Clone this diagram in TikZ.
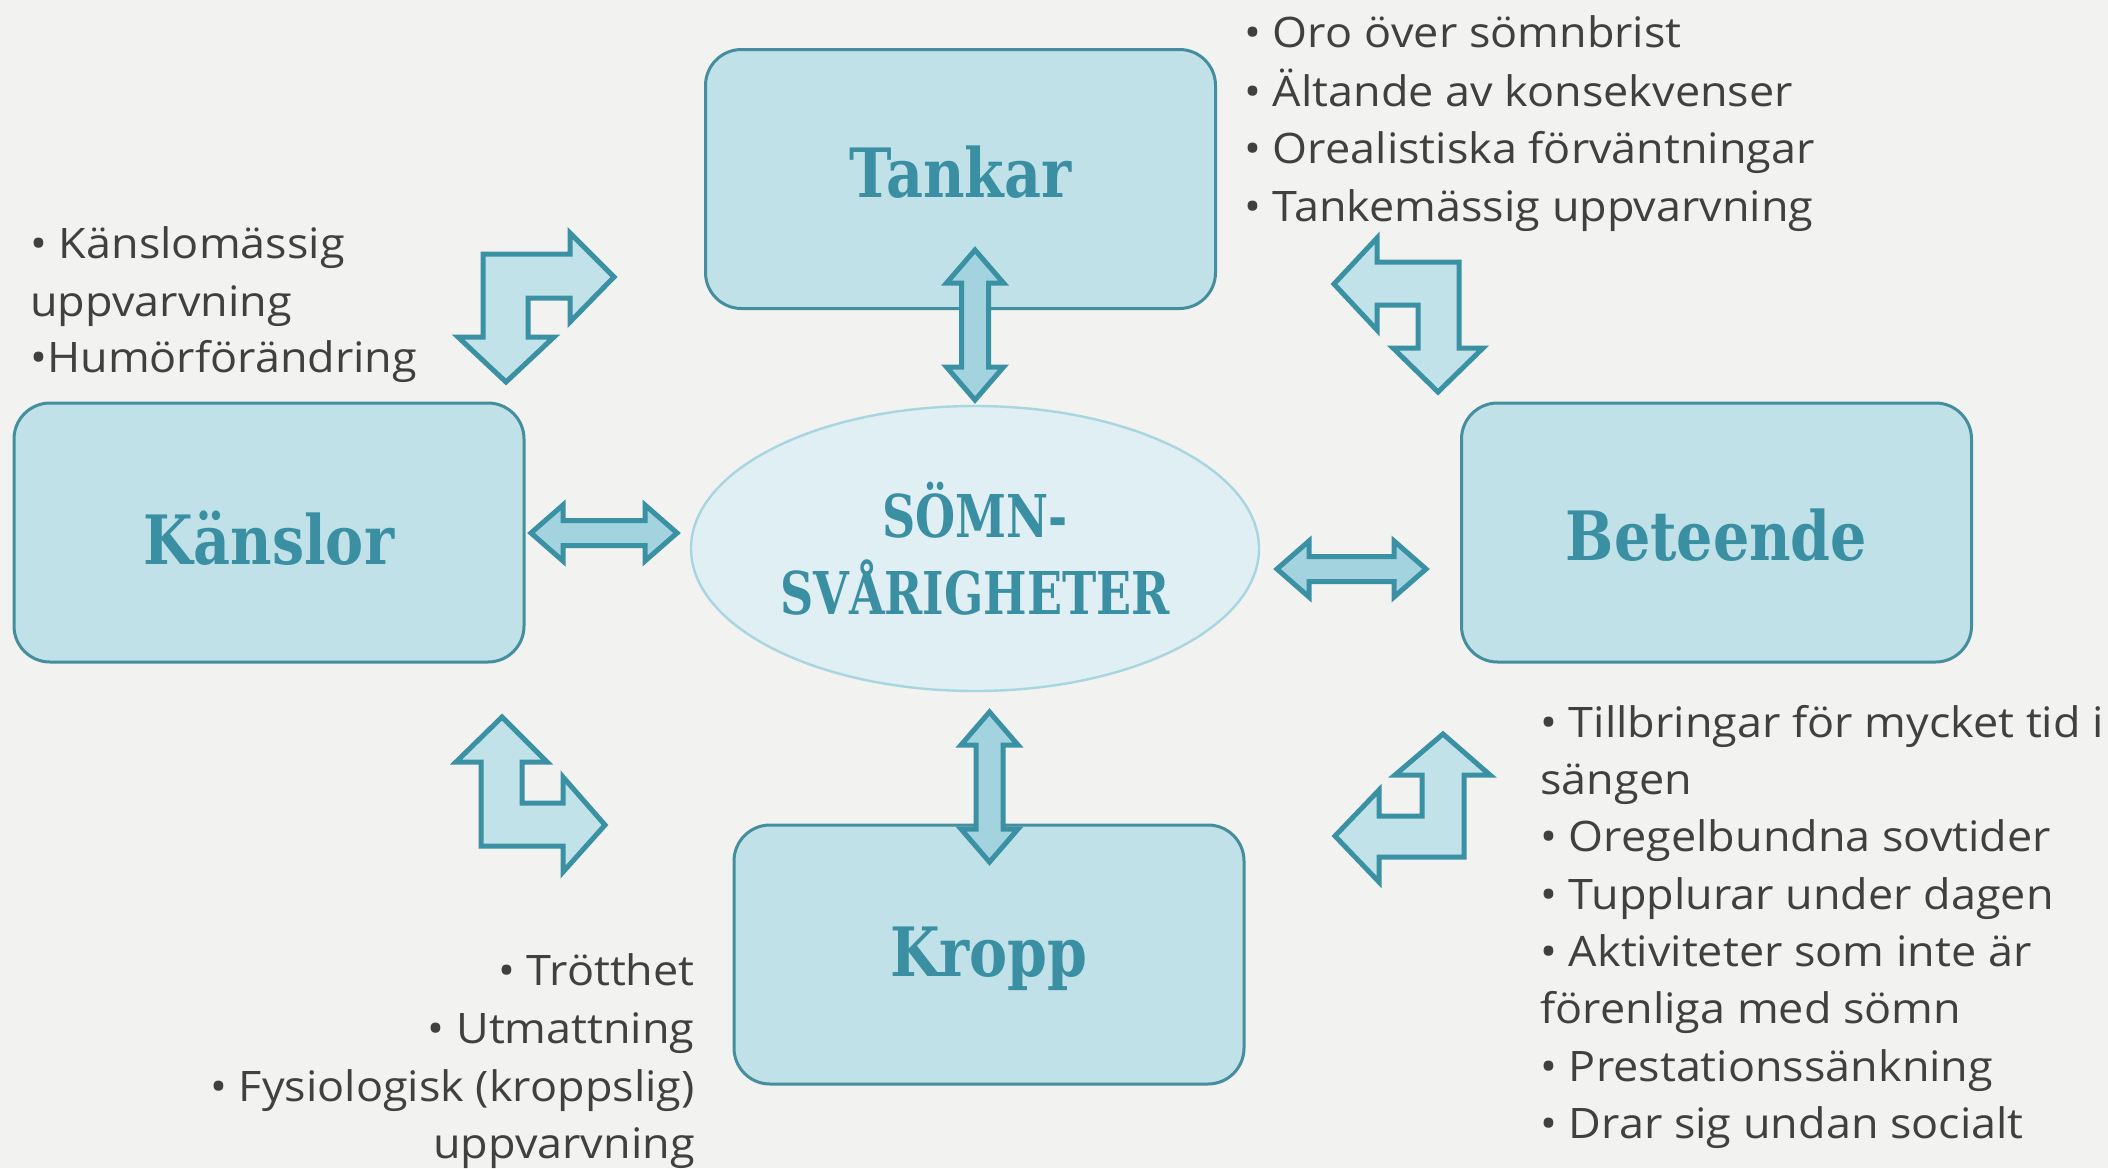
\documentclass[tikz,border=0pt]{standalone}
\usepackage{fontspec}
\setmainfont{Open Sans}[FakeStretch=1.07]
\newfontfamily\titlefont{DejaVu Serif}[FakeStretch=0.84]
\newfontfamily\centerfont{DejaVu Serif}[FakeStretch=0.78]
\definecolor{bgcol}{HTML}{F2F2F0}
\definecolor{boxfill}{HTML}{C0E1E7}
\definecolor{boxdraw}{HTML}{458E9E}
\definecolor{titlecol}{HTML}{3A8FA3}
\definecolor{ellfill}{HTML}{E0EFF4}
\definecolor{elldraw}{HTML}{A7D5E0}
\definecolor{bentfill}{HTML}{C1E2E8}
\definecolor{dblfill}{HTML}{A3D3DE}
\definecolor{arrdraw}{HTML}{3A91A4}
\definecolor{txtcol}{HTML}{404040}
\usetikzlibrary{shapes.geometric}
\tikzset{
  box/.style={draw=boxdraw, line width=1.5pt, fill=boxfill, rounded corners=18pt,
    minimum width=255pt, minimum height=129.5pt, inner sep=0pt, text=titlecol,
    font=\titlefont\bfseries\fontsize{34}{40}\selectfont, text depth=0pt},
  ellnode/.style={ellipse, draw=elldraw, line width=1.2pt, fill=ellfill,
    minimum width=284pt, minimum height=142.5pt, inner sep=0pt, text=titlecol,
    align=center, font=\centerfont\bfseries\fontsize{29.5}{38.5}\selectfont},
  bul/.style={inner sep=0pt, text=txtcol, font=\fontsize{21}{24}\selectfont},
  bentarrow/.style={draw=arrdraw, fill=bentfill, line width=2.5pt, line join=miter},
  dblarrow/.style={draw=arrdraw, fill=dblfill, line width=2.5pt, line join=miter}
}
\begin{document}
\begin{tikzpicture}[x=0.5pt,y=-0.5pt]
\useasboundingbox (0,0) rectangle (2108,1168);
\fill[bgcol] (0,0) rectangle (2108,1168);

% boxes
\node[box, text height=18pt] (tankar) at (960.5,179) {Tankar};
\node[box, text height=31.5pt] (kanslor) at (269,532.5) {Känslor};
\node[box, text height=27.5pt] (beteende) at (1716.5,532.5) {Beteende};
\node[box, text height=21.5pt] (kropp) at (989,954.5) {Kropp};
\node[ellnode] (somn) at (975,548.5) {SÖMN-\\SVÅRIGHETER};

% double arrows
\draw[dblarrow] (975,250) -- (1003.5,283) -- (988.5,283) -- (988.5,367) -- (1003.5,367)
  -- (975,400) -- (946.5,367) -- (961.5,367) -- (961.5,283) -- (946.5,283) -- cycle;
\draw[dblarrow] (989.5,712) -- (1018,745) -- (1003,745) -- (1003,829) -- (1018,829)
  -- (989.5,862) -- (961,829) -- (976,829) -- (976,745) -- (961,745) -- cycle;
\draw[dblarrow] (531,533) -- (563,505) -- (563,520.5) -- (645,520.5) -- (645,505)
  -- (677,533) -- (645,561) -- (645,545.5) -- (563,545.5) -- (563,561) -- cycle;
\draw[dblarrow] (1277,569) -- (1309,541) -- (1309,556.5) -- (1394,556.5) -- (1394,541)
  -- (1426,569) -- (1394,597) -- (1394,581.5) -- (1309,581.5) -- (1309,597) -- cycle;

% bent arrows
\draw[bentarrow] (483,254) -- (570,254) -- (570,233) -- (614,277) -- (570,322) -- (570,298)
  -- (528,298) -- (528,337) -- (554,337) -- (506,382) -- (458,337) -- (483,337) -- cycle;
\draw[bentarrow] (1459,262) -- (1377,262) -- (1377,238) -- (1334,284) -- (1377,330) -- (1377,305)
  -- (1418,305) -- (1418,348) -- (1393,348) -- (1438,392) -- (1483,348) -- (1459,348) -- cycle;
\draw[bentarrow] (481,846) -- (481,762) -- (456,762) -- (502,717) -- (547,762) -- (522,762)
  -- (522,803) -- (563,803) -- (563,777) -- (605,825) -- (563,872) -- (563,846) -- cycle;
\draw[bentarrow] (1464,857) -- (1464,775) -- (1490,775) -- (1443,734) -- (1395,775) -- (1422,775)
  -- (1422,816) -- (1379,816) -- (1379,790) -- (1335,836) -- (1379,882) -- (1379,857) -- cycle;

% text: Tankar
\node[bul, anchor=base west] (t1) at (1244,47) {• Oro över sömnbrist};
\node[bul, anchor=base west] (t2) at (1244,106) {• Ältande av konsekvenser};
\node[bul, anchor=base west] (t3) at (1244,163) {• Orealistiska förväntningar};
\node[bul, anchor=base west] (t4) at (1244,221) {• Tankemässig uppvarvning};
% text: Känslor
\node[bul, anchor=base west] (k1) at (30,258) {• Känslomässig};
\node[bul, anchor=base west] (k2) at (30,316) {uppvarvning};
\node[bul, anchor=base west] (k3) at (30,372) {•Humörförändring};
% text: Kropp
\node[bul, anchor=base east] (b1) at (695,985) {• Trötthet};
\node[bul, anchor=base east] (b2) at (695,1043) {• Utmattning};
\node[bul, anchor=base east] (b3) at (695,1101) {• Fysiologisk (kroppslig)};
\node[bul, anchor=base east] (b4) at (695,1158) {uppvarvning};
% text: Beteende
\node[bul, anchor=base west] (e1) at (1540,737) {• Tillbringar för mycket tid i};
\node[bul, anchor=base west] (e2) at (1540,794) {sängen};
\node[bul, anchor=base west] (e3) at (1540,851) {• Oregelbundna sovtider};
\node[bul, anchor=base west] (e4) at (1540,909) {• Tupplurar under dagen};
\node[bul, anchor=base west] (e5) at (1540,966) {• Aktiviteter som inte är};
\node[bul, anchor=base west] (e6) at (1540,1023) {förenliga med sömn};
\node[bul, anchor=base west] (e7) at (1540,1081) {• Prestationssänkning};
\node[bul, anchor=base west] (e8) at (1540,1138) {• Drar sig undan socialt};
\end{tikzpicture}
\end{document}
